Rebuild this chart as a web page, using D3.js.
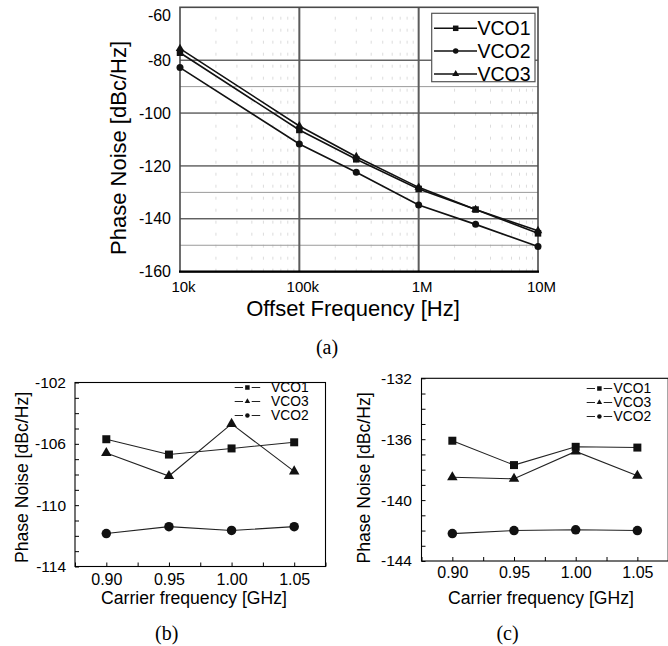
<!DOCTYPE html>
<html>
<head>
<meta charset="utf-8">
<script src="https://cdn.jsdelivr.net/npm/d3@7"></script>
<style>
  body { margin: 0; background: #fff; }
  svg { display: block; }
</style>
</head>
<body>
<svg id="fig" width="668" height="646"></svg>
<script>
// ---- (a) phase noise versus offset frequency ----
const offsetFreqs = [1e4, 1e5, 3e5, 1e6, 3e6, 1e7];
const offsetPnVCO1 = [-77.2, -106.4, -117.5, -128.7, -136.5, -145.5];
const offsetPnVCO2 = [-82.8, -111.7, -122.4, -134.8, -142.1, -150.5];
const offsetPnVCO3 = [-75.6, -104.9, -116.5, -128.1, -136.5, -144.5];
const offsetTickValues = [1e4, 1e5, 1e6, 1e7];
const offsetTickLabels = ["10k", "100k", "1M", "10M"];
const offsetPnTicks = [-160, -140, -120, -100, -80, -60];
const offsetPnMajorGrid = [-140, -120, -100, -80];
const offsetPnMinorGrid = [-150, -130, -90];
const offsetFreqMajorGrid = [1e5, 1e6];

// ---- (b), (c) phase noise versus carrier frequency ----
const carrierGHz = [0.90, 0.95, 1.00, 1.05];
const carrierTickLabels = ["0.90", "0.95", "1.00", "1.05"];
const pnAt100kVCO1 = [-105.7, -106.7, -106.3, -105.9];
const pnAt100kVCO3 = [-106.6, -108.1, -104.7, -107.8];
const pnAt100kVCO2 = [-111.85, -111.4, -111.65, -111.4];
const pnAt100kTicks = [-114, -110, -106, -102];
const pnAt3MVCO1 = [-136.1, -137.7, -136.5, -136.55];
const pnAt3MVCO3 = [-138.5, -138.6, -136.8, -138.4];
const pnAt3MVCO2 = [-142.2, -142.0, -141.95, -142.0];
const pnAt3MTicks = [-144, -140, -136, -132];

const SANS = "'Liberation Sans', Arial, Helvetica, sans-serif";
const SERIF = "'Liberation Serif', 'Times New Roman', serif";
const INK = "#111";

const svg = d3.select("#fig");

function marker(g, type, x, y, size) {
  // size = nominal width of the glyph in px
  let sym, area;
  if (type === "square") { sym = d3.symbolSquare; area = size * size; }
  else if (type === "circle") { sym = d3.symbolCircle; area = Math.PI * (size / 2) * (size / 2); }
  else { sym = d3.symbolTriangle; area = Math.sqrt(3) / 4 * size * size; }
  g.append("path")
    .attr("d", d3.symbol(sym, area)())
    .attr("transform", `translate(${x},${y})`)
    .attr("fill", INK);
}

// ================= Panel (a) =================
(function drawOffsetPanel() {
  const x = d3.scaleLog().domain([1e4, 1e7]).range([180, 538]);
  const y = d3.scaleLinear().domain([-160, -60]).range([271.7, 7.3]);
  const g = svg.append("g");

  // faint dotted minor verticals at 2..9 of each decade
  const minorX = x.ticks().filter(v => !offsetTickValues.includes(v));
  g.selectAll(".mvx").data(minorX).enter().append("line")
    .attr("x1", d => x(d)).attr("x2", d => x(d))
    .attr("y1", y(-160)).attr("y2", y(-60))
    .attr("stroke", "#dcdcdc").attr("stroke-width", 1)
    .attr("stroke-dasharray", "3,9");

  g.selectAll(".mhy").data(offsetPnMinorGrid).enter().append("line")
    .attr("x1", x(1e4)).attr("x2", x(1e7))
    .attr("y1", d => y(d)).attr("y2", d => y(d))
    .attr("stroke", "#9a9a9a").attr("stroke-width", 1);

  g.selectAll(".Mhy").data(offsetPnMajorGrid).enter().append("line")
    .attr("x1", x(1e4)).attr("x2", x(1e7))
    .attr("y1", d => y(d)).attr("y2", d => y(d))
    .attr("stroke", "#1a1a1a").attr("stroke-width", 1);

  g.selectAll(".Mvx").data(offsetFreqMajorGrid).enter().append("line")
    .attr("x1", d => x(d)).attr("x2", d => x(d))
    .attr("y1", y(-160)).attr("y2", y(-60))
    .attr("stroke", "#5c5c5c").attr("stroke-width", 2);

  // frame
  g.append("rect")
    .attr("x", x(1e4)).attr("y", y(-60))
    .attr("width", x(1e7) - x(1e4)).attr("height", y(-160) - y(-60))
    .attr("fill", "none").attr("stroke", "#4a4a4a").attr("stroke-width", 1.6);
  g.append("line")
    .attr("x1", x(1e4) - 1).attr("x2", x(1e7) + 1)
    .attr("y1", y(-160)).attr("y2", y(-160))
    .attr("stroke", "#000").attr("stroke-width", 2.2);

  const series = [
    { name: "VCO1", vals: offsetPnVCO1, sym: "square", size: 6.5 },
    { name: "VCO2", vals: offsetPnVCO2, sym: "circle", size: 7 },
    { name: "VCO3", vals: offsetPnVCO3, sym: "triangle", size: 8.5 }
  ];
  const line = d3.line().x(d => x(d[0])).y(d => y(d[1]));
  series.forEach(s => {
    const pts = offsetFreqs.map((f, i) => [f, s.vals[i]]);
    g.append("path").attr("d", line(pts))
      .attr("fill", "none").attr("stroke", INK).attr("stroke-width", 1.6);
    pts.forEach(p => marker(g, s.sym, x(p[0]), y(p[1]), s.size));
  });

  // axes (labels only)
  const ax = g.append("g").attr("transform", `translate(0,${y(-160)})`)
    .call(d3.axisBottom(x).tickValues(offsetTickValues)
      .tickFormat((d, i) => offsetTickLabels[i]).tickSize(0).tickPadding(9.5));
  ax.select(".domain").remove();
  ax.selectAll("text").attr("font-family", SANS).attr("font-size", 15)
    .attr("fill", "#000").attr("dx", 3);

  const ay = g.append("g").attr("transform", `translate(${x(1e4)},0)`)
    .call(d3.axisLeft(y).tickValues(offsetPnTicks).tickFormat(d => String(d))
      .tickSize(0).tickPadding(9));
  ay.select(".domain").remove();
  ay.selectAll("text").attr("font-family", SANS).attr("font-size", 16).attr("fill", "#000");
  ay.selectAll(".tick").filter(d => d === -60).select("text").attr("y", 8);

  g.append("text")
    .attr("transform", `translate(126,148) rotate(-90)`)
    .attr("text-anchor", "middle")
    .attr("font-family", SANS).attr("font-size", 22).attr("fill", "#000")
    .text("Phase Noise [dBc/Hz]");
  g.append("text")
    .attr("x", 353).attr("y", 315.5)
    .attr("text-anchor", "middle")
    .attr("font-family", SANS).attr("font-size", 22).attr("fill", "#000")
    .text("Offset Frequency [Hz]");

  // legend
  const lg = g.append("g");
  lg.append("rect").attr("x", 431.7).attr("y", 13.3).attr("width", 103.3).attr("height", 68.4)
    .attr("fill", "#fff").attr("stroke", "#555").attr("stroke-width", 1.2);
  const rows = [28.3, 51, 74];
  series.forEach((s, i) => {
    lg.append("line").attr("x1", 434).attr("x2", 477).attr("y1", rows[i]).attr("y2", rows[i])
      .attr("stroke", INK).attr("stroke-width", 1.5);
    marker(lg, s.sym, 455.7, rows[i], s.sym === "triangle" ? 7 : 5.5);
    lg.append("text").attr("x", 477.5).attr("y", rows[i] + 7)
      .attr("font-family", SANS).attr("font-size", 19.5).attr("fill", "#000")
      .text(s.name);
  });

  svg.append("text").attr("x", 327).attr("y", 354)
    .attr("text-anchor", "middle").attr("font-family", SERIF).attr("font-size", 20)
    .text("(a)");
})();

// ================= Panels (b) and (c) =================
function drawCarrierPanel(cfg) {
  const x = d3.scaleLinear().domain([0.875, 1.075]).range(cfg.xRange);
  const y = d3.scaleLinear().domain(cfg.yDomain).range(cfg.yRange);
  const g = svg.append("g");

  // frame
  g.append("rect")
    .attr("x", x(0.875)).attr("y", y(cfg.yDomain[1]))
    .attr("width", x(1.075) - x(0.875)).attr("height", y(cfg.yDomain[0]) - y(cfg.yDomain[1]))
    .attr("fill", "none").attr("stroke", "#000").attr("stroke-width", 1.1);

  // inward ticks
  const xTicks = d3.range(0, 9).map(i => 0.875 + i * 0.025);
  const ax = g.append("g").attr("transform", `translate(0,${y(cfg.yDomain[0])})`)
    .call(d3.axisBottom(x).tickValues(xTicks)
      .tickFormat(d => {
        const k = carrierGHz.findIndex(c => Math.abs(c - d) < 1e-6);
        return k >= 0 ? carrierTickLabels[k] : "";
      })
      .tickSize(-4).tickPadding(cfg.xPad));
  ax.select(".domain").remove();
  ax.selectAll("line").attr("stroke", "#000");
  ax.selectAll("text").attr("font-family", SANS).attr("font-size", 16).attr("fill", "#000");

  const yTicks = d3.range(cfg.yDomain[0], cfg.yDomain[1] + 1, 1);
  const ay = g.append("g").attr("transform", `translate(${x(0.875)},0)`)
    .call(d3.axisLeft(y).tickValues(yTicks)
      .tickFormat(d => cfg.yLabels.includes(d) ? String(d) : "")
      .tickSize(-4).tickPadding(cfg.yPad));
  ay.select(".domain").remove();
  ay.selectAll("line").attr("stroke", "#000");
  ay.selectAll("text").attr("font-family", SANS).attr("font-size", 15.5).attr("fill", "#000");

  const line = d3.line().x(d => x(d[0])).y(d => y(d[1]));
  cfg.series.forEach(s => {
    const pts = carrierGHz.map((c, i) => [c, s.vals[i]]);
    g.append("path").attr("d", line(pts))
      .attr("fill", "none").attr("stroke", "#222").attr("stroke-width", 1.1);
  });
  cfg.series.forEach(s => {
    carrierGHz.forEach((c, i) => marker(g, s.sym, x(c), y(s.vals[i]), s.size));
  });

  // legend
  cfg.series.forEach((s, i) => {
    const ry = cfg.legend.rows[i];
    const lx = cfg.legend.x;
    g.append("line").attr("x1", lx).attr("x2", lx + 8.3).attr("y1", ry).attr("y2", ry)
      .attr("stroke", "#222").attr("stroke-width", 1);
    g.append("line").attr("x1", lx + 17).attr("x2", lx + 25.5).attr("y1", ry).attr("y2", ry)
      .attr("stroke", "#222").attr("stroke-width", 1);
    marker(g, s.sym, lx + 12.7, ry, s.sym === "triangle" ? 5.5 : 4.5);
    g.append("text").attr("x", cfg.legend.textX).attr("y", ry + 4.9)
      .attr("font-family", SANS).attr("font-size", cfg.legend.fontSize).attr("fill", "#000")
      .text(s.name);
  });

  g.append("text")
    .attr("transform", `translate(${cfg.yTitle[0]},${cfg.yTitle[1]}) rotate(-90)`)
    .attr("text-anchor", "middle")
    .attr("font-family", SANS).attr("font-size", 17.6).attr("fill", "#000")
    .text("Phase Noise [dBc/Hz]");
  g.append("text")
    .attr("x", cfg.xTitle[0]).attr("y", cfg.xTitle[1])
    .attr("text-anchor", "middle")
    .attr("font-family", SANS).attr("font-size", 17.6).attr("fill", "#000")
    .text("Carrier frequency [GHz]");

  svg.append("text").attr("x", cfg.caption[0]).attr("y", cfg.caption[1])
    .attr("text-anchor", "middle").attr("font-family", SERIF).attr("font-size", 20)
    .text(cfg.captionText);
}

drawCarrierPanel({
  xRange: [75, 325.5],
  yDomain: [-114, -102],
  yRange: [566.5, 382.5],
  yLabels: pnAt100kTicks,
  xPad: 6.8,
  yPad: 9,
  series: [
    { name: "VCO1", vals: pnAt100kVCO1, sym: "square", size: 8 },
    { name: "VCO3", vals: pnAt100kVCO3, sym: "triangle", size: 10.5 },
    { name: "VCO2", vals: pnAt100kVCO2, sym: "circle", size: 9.5 }
  ],
  legend: { x: 234.7, textX: 271, rows: [387.5, 401.5, 415.5], fontSize: 13.8 },
  yTitle: [28.3, 477.5],
  xTitle: [194, 603.5],
  caption: [166.7, 640],
  captionText: "(b)"
});

drawCarrierPanel({
  xRange: [421.5, 668.2],
  yDomain: [-144, -132],
  yRange: [561, 378.3],
  yLabels: pnAt3MTicks,
  xPad: 5.5,
  yPad: 9.5,
  series: [
    { name: "VCO1", vals: pnAt3MVCO1, sym: "square", size: 8 },
    { name: "VCO3", vals: pnAt3MVCO3, sym: "triangle", size: 10.5 },
    { name: "VCO2", vals: pnAt3MVCO2, sym: "circle", size: 9.5 }
  ],
  legend: { x: 586.7, textX: 613.5, rows: [388.5, 402.5, 416.5], fontSize: 13.8 },
  yTitle: [369.6, 478],
  xTitle: [541, 603.5],
  caption: [507.5, 640],
  captionText: "(c)"
});
</script>
</body>
</html>
